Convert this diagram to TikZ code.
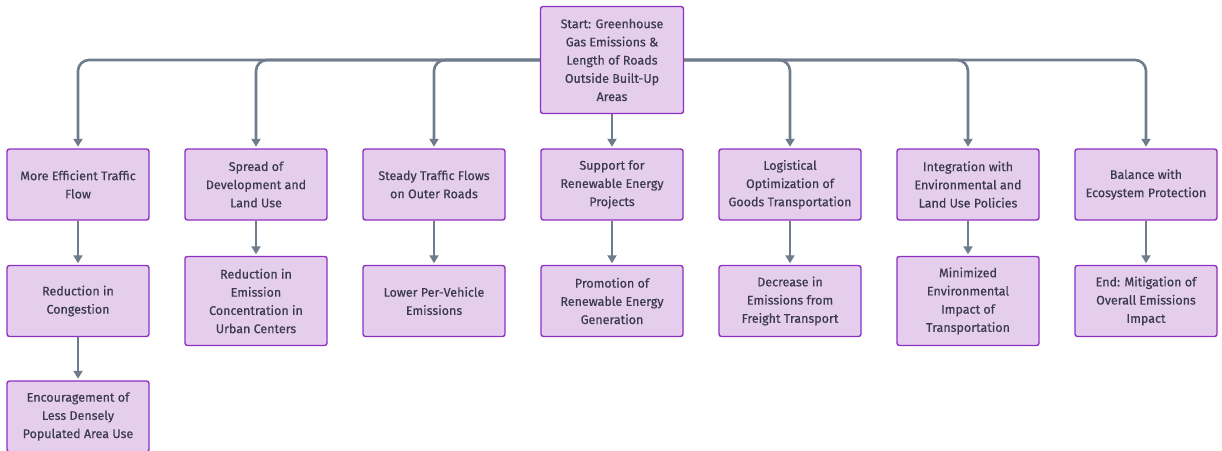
\documentclass[tikz,border=0pt]{standalone}
\usepackage{fontspec}
\setmainfont{Fira Sans}[FakeBold=0.35]
\usetikzlibrary{arrows.meta}
\definecolor{boxfill}{HTML}{E5CDEE}
\definecolor{boxline}{HTML}{8E2FC4}
\definecolor{edgecol}{HTML}{6E7C8C}
\definecolor{txt}{HTML}{3A3A4C}
\tikzset{
  box/.style={draw=boxline, fill=boxfill, line width=1.4pt, rounded corners=2.5pt,
    minimum width=142pt, minimum height=71pt, align=center,
    inner sep=0pt, text=txt, font=\fontsize{12.5}{18.2}\selectfont},
  tall/.style={minimum height=89pt},
  startbox/.style={minimum width=143pt, minimum height=107pt},
  flow/.style={draw=edgecol, line width=2.6pt, rounded corners=11pt,
    shorten >=1.5pt, -{Triangle[length=8pt,width=9pt]}},
}
\begin{document}
\begin{tikzpicture}[x=1pt,y=-1pt]
\useasboundingbox (0,0) rectangle (1222,450);
% entry node
\node[box,startbox] (start) at (612,60) {Start: Greenhouse\\Gas Emissions \&\\Length of Roads\\Outside Built-Up\\Areas};
% first tier
\node[box] (a1) at (78,184.5) {More Efficient Traffic\\Flow};
\node[box] (b1) at (256,184.5) {Spread of\\Development and\\Land Use};
\node[box] (c1) at (434,184.5) {Steady Traffic Flows\\on Outer Roads};
\node[box] (d1) at (612,184.5) {Support for\\Renewable Energy\\Projects};
\node[box] (e1) at (790,184.5) {Logistical\\Optimization of\\Goods Transportation};
\node[box] (f1) at (968,184.5) {Integration with\\Environmental and\\Land Use Policies};
\node[box] (g1) at (1146,184.5) {Balance with\\Ecosystem Protection};
% second tier
\node[box] (a2) at (78,301) {Reduction in\\Congestion};
\node[box,tall] (b2) at (256,301) {Reduction in\\Emission\\Concentration in\\Urban Centers};
\node[box] (c2) at (434,301) {Lower Per-Vehicle\\Emissions};
\node[box] (d2) at (612,301) {Promotion of\\Renewable Energy\\Generation};
\node[box] (e2) at (790,301) {Decrease in\\Emissions from\\Freight Transport};
\node[box,tall] (f2) at (968,301) {Minimized\\Environmental\\Impact of\\Transportation};
\node[box] (g2) at (1146,301) {End: Mitigation of\\Overall Emissions\\Impact};
% third tier
\node[box] (a3) at (78,416.5) {Encouragement of\\Less Densely\\Populated Area Use};
% branches from the entry node
\draw[flow] (start.west) -| (a1.north);
\draw[flow] (start.west) -| (b1.north);
\draw[flow] (start.west) -| (c1.north);
\draw[flow] (start.south) -- (d1.north);
\draw[flow] (start.east) -| (e1.north);
\draw[flow] (start.east) -| (f1.north);
\draw[flow] (start.east) -| (g1.north);
% column chains
\foreach \c in {a,b,c,d,e,f,g}{
  \draw[flow] (\c1.south) -- (\c2.north);
}
\draw[flow] (a2.south) -- (a3.north);
\end{tikzpicture}
\end{document}
